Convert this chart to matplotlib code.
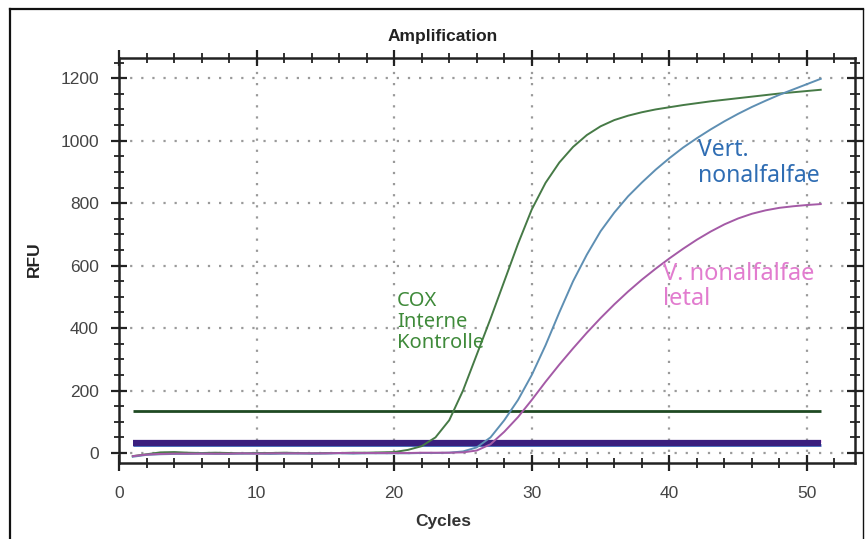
import matplotlib.pyplot as plt
from matplotlib.ticker import MultipleLocator
from matplotlib.lines import Line2D

# Amplification curves (RFU per cycle)
cycles = list(range(1, 52))

cox = [-10, -4, 2, 3, 1, 0, 1, 0, -1, 0, 0, 1, 0, -1, 0, 0, 1, 1, 2,
       3, 10, 22, 50, 105, 200, 315, 430, 550, 670, 780, 865, 930, 980, 1018, 1046,
       1066, 1080, 1091, 1100, 1107, 1114, 1120, 1126, 1131, 1136, 1141, 1146, 1151, 1155, 1159, 1163]

vert = [-12, -6, -4, -3, -3, -2, -3, -3, -2, -2, -3, -2, -2, -2, -2, -1, -2, -1, -1, -1, -1, 0, 0,
        1, 5, 18, 50, 105, 170, 250, 345, 450, 550, 635, 710,
        770, 822, 866, 907, 944, 978, 1008, 1036, 1062, 1086, 1108, 1128, 1147, 1164, 1181, 1198]

letal = [-10, -5, -3, -2, -2, -2, -2, -2, -1, -2, -1, -1, -1, -1, -1, 0, 0, 0, 0, 0, 0, 1, 1, 1,
         2, 8, 28, 68, 115, 170, 228, 283, 335, 385, 432, 476, 517, 555,
         590, 623, 654, 683, 709, 732, 751, 766, 777, 785, 790, 794, 797]

# threshold lines
thr_cox = 135
thr_band = 31
thr_start, thr_end = 1, 51

labels = ["COX\nInterne\nKontrolle", "Vert.\nnonalfalfae", "V. nonalfalfae\nletal"]
label_pos = [(20.2, 520), (42.1, 1008), (39.5, 612)]
label_col = ["#3f8a3a", "#2f6db3", "#e27ccf"]
label_size = [14.5, 16.5, 17]

fig = plt.figure(figsize=(8.67, 5.39), dpi=100)
ax = fig.add_axes([0.1373, 0.141, 0.849, 0.751])

# thresholds
ax.hlines(thr_band + 7, thr_start, thr_end, color="#f2a6e6", lw=2, zorder=2)
ax.hlines(thr_band - 6, thr_start, thr_end, color="#3f6fc0", lw=2, zorder=2)
ax.hlines(thr_band, thr_start, thr_end, color="#3a1f7e", lw=4.5, zorder=3)
ax.hlines(thr_cox, thr_start, thr_end, color="#1f4a22", lw=2, zorder=3)

ax.plot(cycles, cox, color="#467a46", lw=1.4, zorder=4)
ax.plot(cycles, vert, color="#5e8fb3", lw=1.4, zorder=4)
ax.plot(cycles, letal, color="#a45aa6", lw=1.4, zorder=4)

for txt, (x, y), c, fs in zip(labels, label_pos, label_col, label_size):
    ax.text(x, y, txt, color=c, fontsize=fs, family="Noto Sans",
            ha="left", va="top", linespacing=1.08, zorder=5)

ax.set_xlim(0, 53.5)
ax.set_ylim(-32, 1264)
ax.xaxis.set_major_locator(MultipleLocator(10))
ax.xaxis.set_minor_locator(MultipleLocator(2))
ax.yaxis.set_major_locator(MultipleLocator(200))
ax.yaxis.set_minor_locator(MultipleLocator(50))

ax.grid(True, which="major", color="#9a9a9a", linestyle=(0, (1, 4)), lw=1.6)
ax.tick_params(which="both", top=True, right=True, direction="inout",
               color="#222222", labelsize=12.5, labelcolor="#444444")
ax.tick_params(which="major", length=11, width=1.6)
ax.tick_params(which="minor", length=7, width=1.3)
ax.tick_params(axis="y", pad=9)
ax.tick_params(axis="x", pad=11)
for lab in ax.get_xticklabels() + ax.get_yticklabels():
    lab.set_family("Liberation Sans")
for s in ax.spines.values():
    s.set_linewidth(1.8)
    s.set_color("#222222")

fig.text(0.511, 0.933, "Amplification", ha="center", va="center",
         fontsize=12.5, fontweight="bold", family="Liberation Sans", color="#222222")
fig.text(0.511, 0.033, "Cycles", ha="center", va="center",
         fontsize=12.5, fontweight="bold", family="Liberation Sans", color="#333333")
fig.text(0.040, 0.52, "RFU", ha="center", va="center", rotation=90,
         fontsize=12.5, fontweight="bold", family="Liberation Sans", color="#222222")

# outer frame of the scanned chart
fig.add_artist(Line2D([0.011, 0.011], [0, 0.983], color="#111111", lw=1.6))
fig.add_artist(Line2D([0.011, 0.995], [0.983, 0.983], color="#111111", lw=1.6))
fig.add_artist(Line2D([0.995, 0.995], [0, 0.983], color="#111111", lw=1.0))

fig.savefig("out.png", dpi=100)
